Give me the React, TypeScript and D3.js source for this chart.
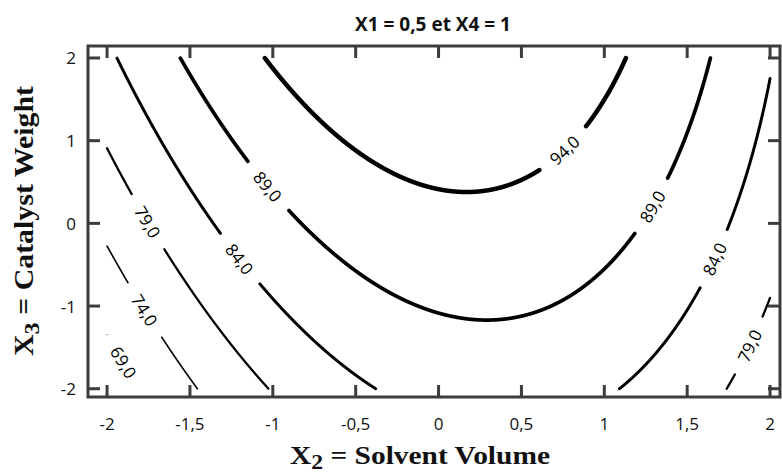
import React, { useEffect, useRef } from "react";
import * as d3 from "d3";

// response surface:
// Y = b0 + b2*X2 + b3*X3 + b22*X2^2 + b33*X3^2 + b23*X2*X3   (X1 = 0.5, X4 = 1)
const coefNames = ["b0", "b2", "b3", "b22", "b33", "b23"];
const coefValues = [92.71, 1.45, 3.204, -3.65, -0.198, -0.575];

const levels = [69, 74, 79, 84, 89, 94];

// where each contour carries its label (level, X2 position)
const labelLevels = [94, 89, 89, 84, 84, 79, 79, 74, 69];
const labelX2 = [0.76, -1.03, 1.29, -1.2, 1.665, -1.755, 1.876, -1.774, -1.9];

const xTicks = [-2, -1.5, -1, -0.5, 0, 0.5, 1, 1.5, 2];
const yTicks = [-2, -1, 0, 1, 2];

const titleText = "X1 = 0,5 et X4 = 1";

const W = 782;
const H = 474;

const fmt = (v: number) => String(v).replace(".", ",");

function App() {
  const ref = useRef<SVGSVGElement>(null);

  useEffect(() => {
    document.body.style.margin = "0";
    const coef: Record<string, number> = {};
    coefNames.forEach((n, i) => (coef[n] = coefValues[i]));

    // solve the surface for X3 at a given X2 on one level
    const x3At = (level: number, x2: number) => {
      const a = coef.b33;
      const b = coef.b3 + coef.b23 * x2;
      const c = coef.b0 + coef.b2 * x2 + coef.b22 * x2 * x2 - level;
      const disc = b * b - 4 * a * c;
      if (disc < 0) return NaN;
      return (-2 * c) / (b + Math.sqrt(disc));
    };

    const svg = d3.select(ref.current).attr("width", W).attr("height", H);
    svg.selectAll("*").remove();

    const x = d3.scaleLinear().domain([-2.115, 2.06]).range([88, 780]);
    const y = d3.scaleLinear().domain([-2.1, 2.145]).range([397, 46]);
    const widthScale = d3.scalePow().exponent(2).domain([69, 94]).range([1, 4.5]);

    const frame = "#3c3c3c";
    const sans = "'Open Sans', sans-serif";
    const serif = "'Liberation Serif', 'Times New Roman', serif";

    // labels: position and angle along the contour
    const labels = labelLevels.map((lv, i) => {
      const x2 = labelX2[i];
      const cx = x(x2);
      const cy = y(x3At(lv, x2));
      const dx = x(x2 + 0.01) - x(x2 - 0.01);
      const dy = y(x3At(lv, x2 + 0.01)) - y(x3At(lv, x2 - 0.01));
      const ang = Math.atan2(dy, dx);
      return { level: lv, cx, cy, ang };
    });

    const inGap = (lv: number, px: number, py: number) =>
      labels.some((l) => {
        if (l.level !== lv) return false;
        const ux = px - l.cx;
        const uy = py - l.cy;
        const along = ux * Math.cos(l.ang) + uy * Math.sin(l.ang);
        const perp = -ux * Math.sin(l.ang) + uy * Math.cos(l.ang);
        return Math.abs(along) < 32 && Math.abs(perp) < 14;
      });

    const xs = d3.range(-2, 2.00001, 0.0005);

    const g = svg.append("g");

    levels.forEach((lv) => {
      const pts = xs.map((x2) => [x2, x3At(lv, x2)] as [number, number]);
      const line = d3
        .line<[number, number]>()
        .defined(
          (d) =>
            !isNaN(d[1]) &&
            d[1] >= -2 &&
            d[1] <= 2 &&
            !inGap(lv, x(d[0]), y(d[1]))
        )
        .x((d) => x(d[0]))
        .y((d) => y(d[1]));
      g.append("path")
        .attr("d", line(pts))
        .attr("fill", "none")
        .attr("stroke", "#000")
        .attr("stroke-width", widthScale(lv))
        .attr("stroke-linecap", "round");
    });

    g.selectAll("text.clabel")
      .data(labels)
      .enter()
      .append("text")
      .attr("class", "clabel")
      .attr(
        "transform",
        (d) => `translate(${d.cx},${d.cy}) rotate(${(d.ang * 180) / Math.PI})`
      )
      .attr("text-anchor", "middle")
      .attr("dominant-baseline", "central")
      .style("font-family", sans)
      .style("font-size", "17px")
      .attr("fill", "#000")
      .text((d) => fmt(d.level) + ",0");

    // frame
    const [x0, x1] = x.range();
    const [y0, y1] = y.range();
    svg
      .append("rect")
      .attr("x", x0)
      .attr("y", y1)
      .attr("width", x1 - x0)
      .attr("height", y0 - y1)
      .attr("fill", "none")
      .attr("stroke", frame)
      .attr("stroke-width", 3);

    const tickLen = 12;
    xTicks.forEach((t) => {
      svg.append("line")
        .attr("x1", x(t)).attr("x2", x(t))
        .attr("y1", y0).attr("y2", y0 - tickLen)
        .attr("stroke", frame).attr("stroke-width", 3);
      svg.append("line")
        .attr("x1", x(t)).attr("x2", x(t))
        .attr("y1", y1).attr("y2", y1 + tickLen)
        .attr("stroke", frame).attr("stroke-width", 3);
      svg.append("text")
        .attr("x", x(t))
        .attr("y", 430)
        .attr("text-anchor", "middle")
        .style("font-family", sans)
        .style("font-size", "17px")
        .attr("fill", "#111")
        .text(fmt(t));
    });
    yTicks.forEach((t) => {
      svg.append("line")
        .attr("x1", x0).attr("x2", x0 + tickLen)
        .attr("y1", y(t)).attr("y2", y(t))
        .attr("stroke", frame).attr("stroke-width", 3);
      svg.append("line")
        .attr("x1", x1).attr("x2", x1 - tickLen)
        .attr("y1", y(t)).attr("y2", y(t))
        .attr("stroke", frame).attr("stroke-width", 3);
      svg.append("text")
        .attr("x", 76)
        .attr("y", y(t))
        .attr("text-anchor", "end")
        .attr("dominant-baseline", "central")
        .style("font-family", sans)
        .style("font-size", "17px")
        .attr("fill", "#111")
        .text(fmt(t));
    });

    // title
    svg.append("text")
      .attr("x", 433)
      .attr("y", 31)
      .attr("text-anchor", "middle")
      .style("font-family", sans)
      .style("font-weight", "bold")
      .style("font-size", "19px")
      .attr("fill", "#111")
      .text(titleText);

    // x axis title
    const xt = svg.append("text")
      .attr("x", 290)
      .attr("y", 464)
      .attr("textLength", 260)
      .attr("lengthAdjust", "spacingAndGlyphs")
      .style("font-family", serif)
      .style("font-weight", "bold")
      .style("font-size", "26px")
      .attr("fill", "#111");
    xt.append("tspan").text("X");
    xt.append("tspan").attr("dy", 5).style("font-size", "21px").text("2");
    xt.append("tspan").attr("dy", -5).text(" = Solvent Volume");

    // y axis title
    const yt = svg.append("text")
      .attr("transform", "translate(33,356) rotate(-90)")
      .attr("textLength", 270)
      .attr("lengthAdjust", "spacingAndGlyphs")
      .style("font-family", serif)
      .style("font-weight", "bold")
      .style("font-size", "27px")
      .attr("fill", "#111");
    yt.append("tspan").text("X");
    yt.append("tspan").attr("dy", 6).style("font-size", "22px").text("3");
    yt.append("tspan").attr("dy", -6).text(" = Catalyst Weight");
  }, []);

  return <svg ref={ref} style={{ display: "block", background: "#fff" }} />;
}

export default App;
